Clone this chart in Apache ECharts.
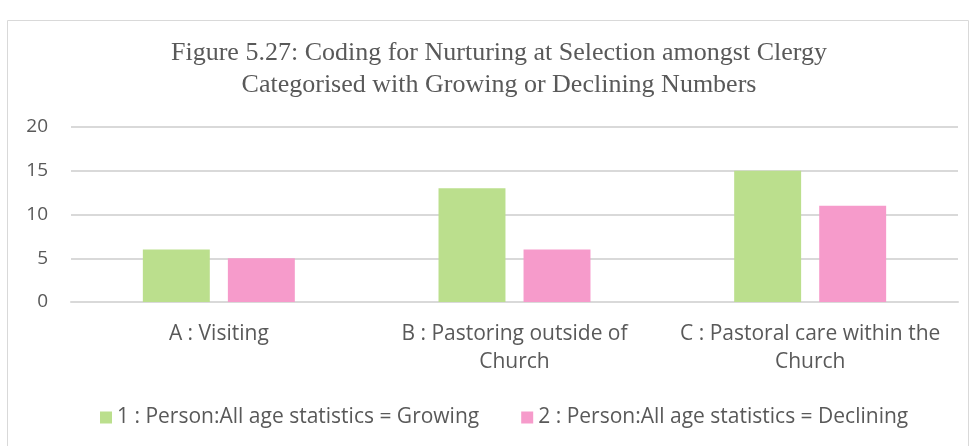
<!DOCTYPE html>
<html><head><meta charset="utf-8">
<script src="https://cdn.jsdelivr.net/npm/echarts@6/dist/echarts.min.js"></script>
<style>html,body{margin:0;padding:0;background:#fff}#c{width:975px;height:446px}</style>
</head><body><div id="c"></div>
<script>
const categories = ['A : Visiting', 'B : Pastoring outside of\nChurch', 'C : Pastoral care within the\nChurch'];
const growing = [6, 13, 15];
const declining = [5, 6, 11];
const seriesNames = ['1 : Person:All age statistics = Growing', '2 : Person:All age statistics = Declining'];
const yTicks = [0, 5, 10, 15, 20];

const FONT = 'Open Sans';
const chart = echarts.init(document.getElementById('c'));
chart.setOption({
  animation: false,
  graphic: [{type: 'rect', shape: {x: 7.5, y: 20.5, width: 961, height: 440}, style: {fill: 'none', stroke: '#d9d9d9', lineWidth: 1}}],
  title: {
    text: 'Figure 5.27: Coding for Nurturing at Selection amongst Clergy\nCategorised with Growing or Declining Numbers',
    left: 494, textAlign: 'center', top: 32,
    textStyle: {fontFamily: 'Liberation Serif', fontSize: 26, fontWeight: 'normal', color: '#595959', lineHeight: 32}
  },
  legend: {
    top: 402, left: 95, itemWidth: 12, itemHeight: 12, itemGap: 42,
    icon: 'rect',
    textStyle: {fontFamily: FONT, fontSize: 21, color: '#595959'},
    data: seriesNames
  },
  grid: {left: 71, right: 17, top: 127, bottom: 144},
  xAxis: {
    type: 'category', data: categories,
    axisLine: {lineStyle: {color: '#d9d9d9', width: 2}}, axisTick: {show: false},
    axisLabel: {fontFamily: FONT, fontSize: 21, color: '#595959', margin: 18, lineHeight: 28, interval: 0}
  },
  yAxis: {
    type: 'value', min: yTicks[0], max: yTicks[yTicks.length - 1], interval: 5,
    axisLine: {show: false}, axisTick: {show: false},
    splitLine: {lineStyle: {color: '#d9d9d9', width: 2}},
    axisLabel: {fontFamily: FONT, fontSize: 19, color: '#595959', margin: 23}
  },
  series: [
    {name: seriesNames[0], type: 'bar', data: growing, barGap: '27%', barCategoryGap: '48.6%', itemStyle: {color: '#bbdf8d'}},
    {name: seriesNames[1], type: 'bar', data: declining, itemStyle: {color: '#f69bcb'}}
  ]
});
</script></body></html>
